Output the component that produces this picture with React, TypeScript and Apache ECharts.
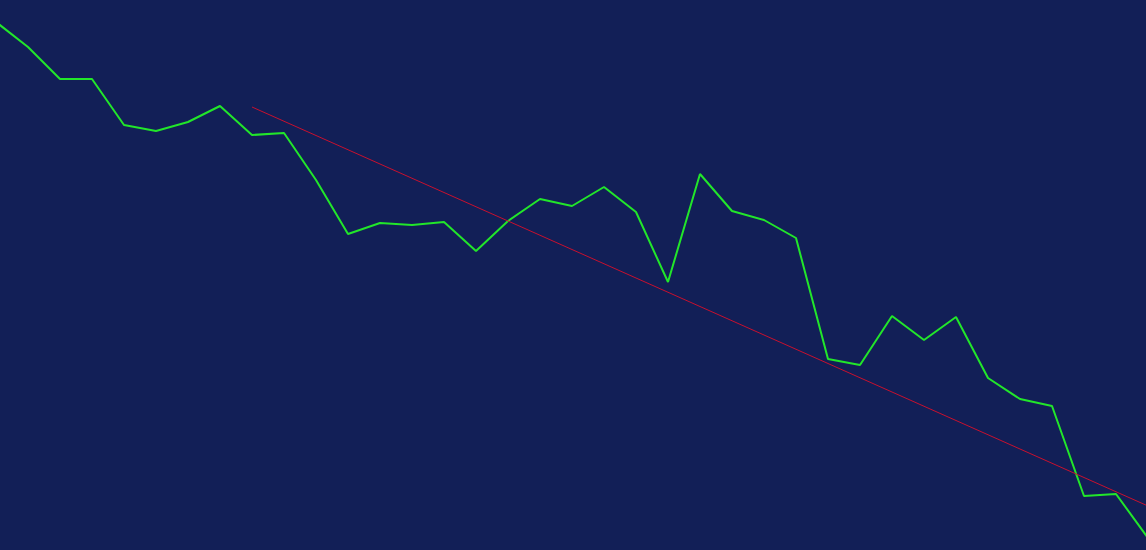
import React, { useEffect, useRef } from "react";
import * as echarts from "echarts";

const categories: number[] = Array.from({ length: 37 }, (_, i) => i);

const priceValues: number[] = [
  528, 503, 471, 471, 425, 419, 428, 444, 415, 417, 370, 316, 327, 325, 328,
  299, 329, 351, 344, 363, 338, 268, 376, 339, 330, 312, 191, 185, 234, 210,
  233, 172, 151, 144, 54, 56, 12,
];

const trendStartIndex = 8;
const trendEndIndex = 36;
const trendStartValue = 443;
const trendEndValue = 44;

const xMin = 0.125;
const xMax = 35.9375;

export default function App() {
  const ref = useRef<HTMLDivElement>(null);

  useEffect(() => {
    if (!ref.current) return;
    const chart = echarts.init(ref.current, undefined, { renderer: "svg" });
    chart.setOption({
      animation: false,
      backgroundColor: "#121f57",
      grid: { left: 0, right: 0, top: 0, bottom: 0, containLabel: false },
      xAxis: {
        type: "value",
        min: xMin,
        max: xMax,
        show: false,
        splitLine: { show: false },
      },
      yAxis: {
        type: "value",
        min: 0,
        max: 550,
        show: false,
        splitLine: { show: false },
      },
      series: [
        {
          type: "line",
          data: categories.map((c, i) => [c, priceValues[i]]),
          showSymbol: false,
          symbol: "none",
          clip: true,
          lineStyle: { color: "#22e62a", width: 2 },
          z: 2,
        },
        {
          type: "line",
          data: [
            [trendStartIndex, trendStartValue],
            [trendEndIndex, trendEndValue],
          ],
          showSymbol: false,
          symbol: "none",
          clip: true,
          lineStyle: { color: "#c8102e", width: 1 },
          z: 3,
        },
      ],
    });
    return () => chart.dispose();
  }, []);

  return (
    <div
      ref={ref}
      style={{ position: "fixed", left: 0, top: 0, width: 1146, height: 550 }}
    />
  );
}
